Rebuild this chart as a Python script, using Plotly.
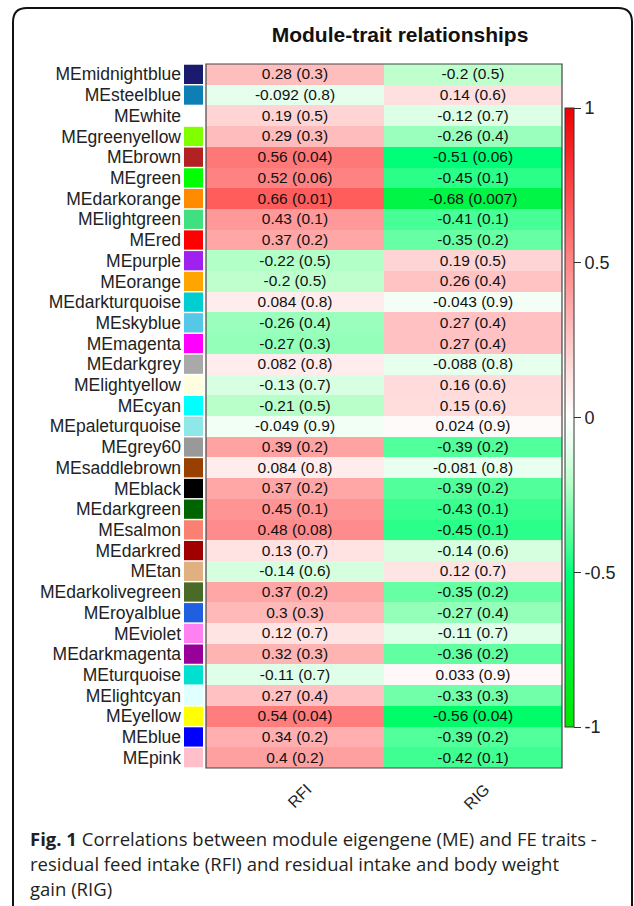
import plotly.graph_objects as go

# ---------------- data ----------------
modules = ["MEmidnightblue", "MEsteelblue", "MEwhite", "MEgreenyellow", "MEbrown", "MEgreen",
           "MEdarkorange", "MElightgreen", "MEred", "MEpurple", "MEorange", "MEdarkturquoise",
           "MEskyblue", "MEmagenta", "MEdarkgrey", "MElightyellow", "MEcyan", "MEpaleturquoise",
           "MEgrey60", "MEsaddlebrown", "MEblack", "MEdarkgreen", "MEsalmon", "MEdarkred",
           "MEtan", "MEdarkolivegreen", "MEroyalblue", "MEviolet", "MEdarkmagenta", "MEturquoise",
           "MElightcyan", "MEyellow", "MEblue", "MEpink"]

module_colors = ["#1a1a6e", "#0e7fb5", "#ffffff", "#80ff00", "#b22222", "#00ff00",
                 "#ff8c00", "#40e080", "#ff0000", "#a020f0", "#ffa500", "#00ced1",
                 "#55c8e8", "#ff00ff", "#a9a9a9", "#fffde0", "#00ffff", "#8ee8e8",
                 "#999999", "#994000", "#000000", "#006400", "#fa8072", "#a00000",
                 "#e0b080", "#4a6a28", "#2060e0", "#ff80f0", "#990099", "#00e0d0",
                 "#e0ffff", "#ffff00", "#0000ff", "#ffc0cb"]

traits = ["RFI", "RIG"]

rfi_cor = [0.28, -0.092, 0.19, 0.29, 0.56, 0.52, 0.66, 0.43, 0.37, -0.22, -0.2, 0.084,
           -0.26, -0.27, 0.082, -0.13, -0.21, -0.049, 0.39, 0.084, 0.37, 0.45, 0.48, 0.13,
           -0.14, 0.37, 0.3, 0.12, 0.32, -0.11, 0.27, 0.54, 0.34, 0.4]
rfi_p = [0.3, 0.8, 0.5, 0.3, 0.04, 0.06, 0.01, 0.1, 0.2, 0.5, 0.5, 0.8,
         0.4, 0.3, 0.8, 0.7, 0.5, 0.9, 0.2, 0.8, 0.2, 0.1, 0.08, 0.7,
         0.6, 0.2, 0.3, 0.7, 0.3, 0.7, 0.4, 0.04, 0.2, 0.2]

rig_cor = [-0.2, 0.14, -0.12, -0.26, -0.51, -0.45, -0.68, -0.41, -0.35, 0.19, 0.26, -0.043,
           0.27, 0.27, -0.088, 0.16, 0.15, 0.024, -0.39, -0.081, -0.39, -0.43, -0.45, -0.14,
           0.12, -0.35, -0.27, -0.11, -0.36, 0.033, -0.33, -0.56, -0.39, -0.42]
rig_p = [0.5, 0.6, 0.7, 0.4, 0.06, 0.1, 0.007, 0.1, 0.2, 0.5, 0.4, 0.9,
         0.4, 0.4, 0.8, 0.6, 0.6, 0.9, 0.2, 0.8, 0.2, 0.1, 0.1, 0.6,
         0.7, 0.2, 0.4, 0.7, 0.2, 0.9, 0.3, 0.04, 0.2, 0.1]

colorbar_ticks = [-1, -0.5, 0, 0.5, 1]
colorbar_ticktext = ["-1", "-0.5", "0", "0.5", "1"]

title_text = "Module-trait relationships"
caption_lines = [
    "<b>Fig. 1</b> Correlations between module eigengene (ME) and FE traits -",
    "residual feed intake (RFI) and residual intake and body weight",
    "gain (RIG)",
]

# ---------------- build ----------------
W, H = 634, 906


def px(x):
    return x / W


def py(y):
    return 1 - y / H


z = [[a, b] for a, b in zip(rfi_cor, rig_cor)]
txt = [[f"{a} ({pa})", f"{b} ({pb})"] for a, pa, b, pb in zip(rfi_cor, rfi_p, rig_cor, rig_p)]

colorscale = [
    [0.0, "rgb(0,232,0)"],
    [0.16, "rgb(0,245,70)"],
    [0.245, "rgb(0,255,120)"],
    [0.295, "rgb(70,255,150)"],
    [0.35, "rgb(130,255,176)"],
    [0.40, "rgb(190,255,205)"],
    [0.45, "rgb(228,255,235)"],
    [0.5, "rgb(255,255,255)"],
    [0.6, "rgb(255,210,210)"],
    [0.7, "rgb(255,160,160)"],
    [0.78, "rgb(255,120,120)"],
    [0.83, "rgb(255,92,92)"],
    [1.0, "rgb(240,0,0)"],
]

fig = go.Figure()

fig.add_trace(go.Heatmap(
    z=z, x=traits, y=modules, text=txt, texttemplate="%{text}",
    textfont=dict(family="Liberation Sans", size=15.5, color="#111111"),
    colorscale=colorscale, zmin=-1, zmax=1, xgap=0, ygap=0,
    colorbar=dict(
        lenmode="pixels", len=619, thickness=9,
        x=px(565), xanchor="left", y=py(417.5), yanchor="middle",
        xpad=0, ypad=0, outlinewidth=1, outlinecolor="#333333",
        ticks="outside", ticklen=7, tickwidth=1, tickcolor="#333333",
        tickvals=colorbar_ticks, ticktext=colorbar_ticktext,
        tickfont=dict(family="Liberation Sans", size=18, color="#222222"),
    ),
    xaxis="x", yaxis="y", hoverinfo="skip",
))

fig.add_trace(go.Bar(
    x=[1] * len(modules), y=modules, orientation="h",
    marker=dict(color=module_colors, line=dict(width=0)),
    width=0.93, xaxis="x2", yaxis="y", showlegend=False, hoverinfo="skip",
))

fig.update_layout(
    width=W, height=H, autosize=False,
    margin=dict(l=0, r=0, t=0, b=0),
    paper_bgcolor="white", plot_bgcolor="white",
    showlegend=False,
    title=dict(text=f"<b>{title_text}</b>", x=px(400), xanchor="center",
               y=py(35), yanchor="middle",
               font=dict(family="Liberation Sans", size=21, color="#111111")),
    xaxis=dict(domain=[px(206), px(562)], anchor="y", showgrid=False, zeroline=False,
               tickangle=-45, ticks="", ticklabelstandoff=8, ticklabelshift=12,
               tickfont=dict(family="Liberation Sans", size=16, color="#222222"),
               fixedrange=True),
    xaxis2=dict(domain=[px(184), px(203)], anchor="y", range=[0, 1], showgrid=False,
                zeroline=False, showticklabels=False, fixedrange=True),
    yaxis=dict(domain=[py(768), py(64)], anchor="x2", autorange="reversed",
               showgrid=False, zeroline=False, ticks="", ticklabelstandoff=2,
               tickmode="linear", tick0=0, dtick=1,
               tickfont=dict(family="Liberation Sans", size=17.5, color="#222222"),
               fixedrange=True),
    bargap=0.1,
)

# heatmap frame
fig.add_shape(type="rect", xref="x domain", yref="y domain", x0=0, x1=1, y0=0, y1=1,
              line=dict(color="#444444", width=1.2), fillcolor="rgba(0,0,0,0)", layer="above")

# outer rounded panel border
L, T, R, B, r = 13, 8, 632, 930, 14
path = (f"M {px(L)} {py(B)} L {px(L)} {py(T + r)} Q {px(L)} {py(T)} {px(L + r)} {py(T)} "
        f"L {px(R - r)} {py(T)} Q {px(R)} {py(T)} {px(R)} {py(T + r)} L {px(R)} {py(B)}")
fig.add_shape(type="path", xref="paper", yref="paper", path=path,
              line=dict(color="#111111", width=2))

for i, line in enumerate(caption_lines):
    fig.add_annotation(text=line, xref="paper", yref="paper", x=px(28), y=py(838 + 25 * i),
                       xanchor="left", yanchor="middle", showarrow=False, align="left",
                       font=dict(family="Open Sans", size=18.5, color="#231f20"))

fig.write_html("out.html", config={"displayModeBar": False},
               post_script="document.body.style.margin='0';document.body.style.overflow='hidden';")
